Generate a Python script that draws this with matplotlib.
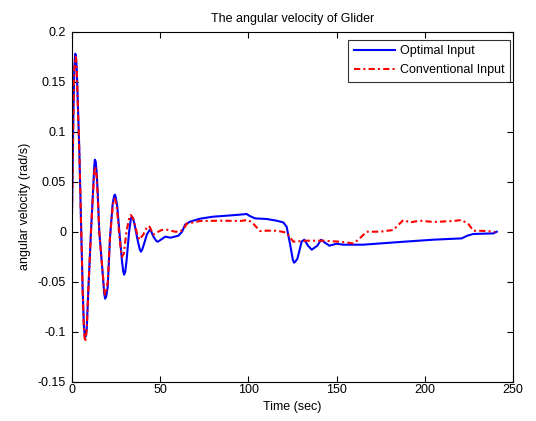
import matplotlib
matplotlib.use("Agg")
import matplotlib.pyplot as plt

# time / angular velocity
t_opt = [0, 0.5, 1.0, 1.5, 2.0, 2.4, 2.9, 3.4, 4.3, 4.8, 5.4, 6.2, 6.9, 7.5,
         8.0, 8.5, 9.6, 10.9, 12.2, 12.7, 13.1, 13.6, 14.1, 14.7, 15.6, 17.5,
         18.4, 18.9, 19.5, 20.4, 21.7, 23.2, 24.0, 24.5, 25.0, 25.8, 27, 28.5,
         29.2, 29.7, 30.3, 31, 32.5, 33.5, 34, 34.6, 35.5, 37.5, 38.6, 39.2,
         39.9, 41, 42.5, 44.0, 44.6, 46.3, 48.0, 48.8, 50.5, 53, 56, 60.4, 62.5,
         64.2, 67, 72.7, 80, 87.8, 95, 99.1, 100.5, 103.8, 110.4, 116, 119.8,
         121.7, 123.6, 125.2, 125.9, 126.6, 127.8, 130.2, 131.7, 133.8, 135.9,
         139.1, 141.2, 143.4, 145.9, 150, 153.8, 165.1, 185.9, 204.8, 220.8,
         224, 227.4, 238.7, 240.7]
w_opt = [0, 0.06, 0.125, 0.165, 0.178, 0.176, 0.16, 0.132, 0.082, 0.045, 0.0,
         -0.058, -0.095, -0.106, -0.104, -0.097, -0.051, 0.0, 0.045, 0.064,
         0.072, 0.070, 0.060, 0.040, 0.0, -0.041, -0.062, -0.067, -0.065,
         -0.055, -0.005, 0.028, 0.036, 0.037, 0.034, 0.025, 0.0, -0.030,
         -0.040, -0.043, -0.040, -0.030, 0.0, 0.013, 0.015, 0.014, 0.008,
         -0.010, -0.018, -0.020, -0.018, -0.012, -0.003, 0.0015, 0.0017,
         -0.005, -0.0095, -0.010, -0.008, -0.005, -0.006, -0.004, 0.0, 0.007,
         0.010, 0.013, 0.015, 0.016, 0.017, 0.0177, 0.016, 0.0133, 0.0127,
         0.011, 0.0093, 0.005, -0.012, -0.028, -0.031, -0.030, -0.027, -0.010,
         -0.008, -0.014, -0.018, -0.014, -0.008, -0.011, -0.014, -0.012,
         -0.013, -0.013, -0.0103, -0.008, -0.0067, -0.004, -0.0023, -0.0017,
         0.0]

t_conv = [0, 0.5, 1.0, 1.5, 2.0, 2.4, 2.9, 3.4, 4.3, 4.8, 5.4, 6.2, 7.0, 7.5,
          8.0, 8.5, 9.6, 10.9, 12.2, 12.7, 13.1, 13.6, 14.1, 14.7, 15.6, 17.5,
          18.4, 18.9, 19.5, 20.4, 21.7, 23.2, 23.7, 24.2, 24.8, 25.5, 27, 28.0,
          28.5, 29.5, 31, 32.6, 33.4, 34.1, 35, 37, 38.3, 40.5, 42.7, 43.4,
          44.1, 46.2, 49, 51, 53.8, 58.5, 61.3, 63.5, 65.1, 72.7, 85, 95.3, 100,
          102.8, 106.6, 110.4, 116.1, 121.7, 125.5, 133, 142.4, 151.9, 159.5,
          162.3, 167, 174.6, 182.1, 187.8, 191.6, 197.2, 204.8, 216.1, 220.8,
          224.6, 227.4, 235, 239.7]
w_conv = [0, 0.06, 0.125, 0.163, 0.175, 0.174, 0.16, 0.13, 0.08, 0.045, 0.0,
          -0.06, -0.100, -0.110, -0.107, -0.098, -0.05, 0.0, 0.042, 0.058,
          0.065, 0.063, 0.055, 0.035, 0.0, -0.04, -0.058, -0.063, -0.060,
          -0.05, -0.005, 0.025, 0.031, 0.033, 0.031, 0.025, -0.005, -0.021,
          -0.025, -0.022, 0.0, 0.014, 0.0167, 0.015, 0.012, -0.002, -0.008,
          -0.003, 0.005, 0.0057, 0.005, -0.003, 0.0, 0.0017, 0.002, 0.0, 0.0,
          0.003, 0.008, 0.0107, 0.011, 0.0107, 0.0117, 0.008, 0.0007, 0.001,
          0.001, -0.001, -0.010, -0.009, -0.009, -0.010, -0.0117, -0.008, 0.0,
          0.0, 0.0017, 0.0117, 0.0093, 0.011, 0.0097, 0.0107, 0.0117, 0.0077,
          0.001, 0.0007, -0.0003]

xticks = [0, 50, 100, 150, 200, 250]
yticks = [-0.15, -0.1, -0.05, 0, 0.05, 0.1, 0.15, 0.2]
ytick_labels = ['-0.15', '-0.1', '-0.05', '0', '0.05', '0.1', '0.15', '0.2']

plt.rcParams['font.family'] = ['Liberation Sans', 'DejaVu Sans']
plt.rcParams['font.size'] = 9

fig = plt.figure(figsize=(5.36, 4.21), dpi=100)
ax = fig.add_axes([0.1338, 0.0934, 0.8237, 0.8313])

ax.plot(t_opt, w_opt, color='#0000ff', lw=1.5, label='Optimal Input')
ax.plot(t_conv, w_conv, color='#ff0000', lw=1.5,
        linestyle=(0, (3, 1.5, 1, 1.5)), label='Conventional Input')

ax.set_xlim(0, 250)
ax.set_ylim(-0.15, 0.2)
ax.set_xticks(xticks)
ax.set_yticks(yticks)
ax.set_yticklabels(ytick_labels)
ax.tick_params(direction='in', top=True, right=True, length=4, width=0.8,
               labelsize=9)
ax.tick_params(axis='x', pad=2)
ax.tick_params(axis='y', pad=4)
for s in ax.spines.values():
    s.set_linewidth(0.8)

ax.set_title('The angular velocity of Glider', fontsize=9, pad=7)
ax.set_xlabel('Time (sec)', fontsize=9, labelpad=3)
ax.set_ylabel('angular velocity (rad/s)', fontsize=9, labelpad=5)

leg = ax.legend(loc='upper right', bbox_to_anchor=(510 / 536, 1 - 39.5 / 421),
                bbox_transform=fig.transFigure, fontsize=9, frameon=True,
                fancybox=False, edgecolor='black', borderaxespad=0,
                handlelength=3.3, borderpad=0.45, labelspacing=0.55,
                handletextpad=0.4)
leg.get_frame().set_linewidth(0.8)

fig.savefig('out.png', dpi=100)
